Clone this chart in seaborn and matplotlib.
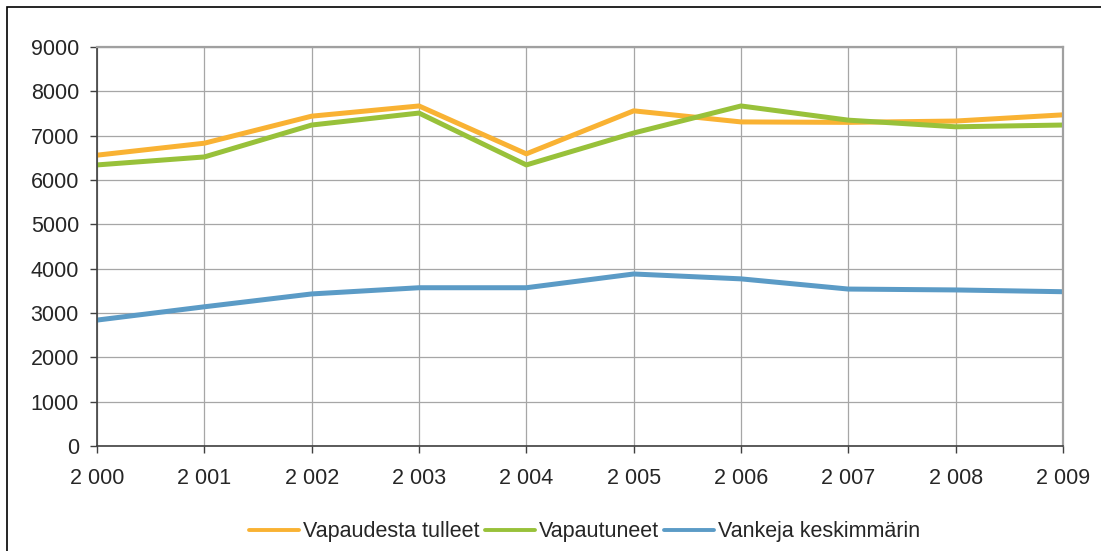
import matplotlib
matplotlib.use("Agg")
import matplotlib.pyplot as plt
import seaborn as sns
import pandas as pd
from matplotlib.patches import Rectangle

years = [2000, 2001, 2002, 2003, 2004, 2005, 2006, 2007, 2008, 2009]
year_labels = ["2 000", "2 001", "2 002", "2 003", "2 004",
               "2 005", "2 006", "2 007", "2 008", "2 009"]
vapaudesta_tulleet = [6560, 6830, 7440, 7670, 6590, 7560, 7310, 7300, 7330, 7470]
vapautuneet = [6340, 6520, 7240, 7510, 6340, 7060, 7670, 7350, 7200, 7240]
vankeja_keskimmarin = [2840, 3140, 3430, 3570, 3570, 3880, 3770, 3540, 3520, 3480]

series_names = ["Vapaudesta tulleet", "Vapautuneet", "Vankeja keskimmärin"]
colors = ["#F9B233", "#98C13A", "#5B9BC6"]

df = pd.concat([
    pd.DataFrame({"year": years, "value": vals, "series": name})
    for name, vals in zip(series_names,
                          [vapaudesta_tulleet, vapautuneet, vankeja_keskimmarin])
])

sns.set_style("white")
plt.rcParams["font.family"] = ["Liberation Sans", "DejaVu Sans"]

fig = plt.figure(figsize=(11.01, 5.51), dpi=100)
ax = fig.add_axes([97 / 1101, 1 - 446 / 551, (1063 - 97) / 1101, (446 - 47) / 551])

sns.lineplot(data=df, x="year", y="value", hue="series", palette=colors,
             hue_order=series_names, linewidth=3.6, ax=ax, legend=True)

ax.set_xlim(2000, 2009)
ax.set_ylim(0, 9000)
ax.set_xticks(years)
ax.set_xticklabels(year_labels)
ax.set_yticks(range(0, 9001, 1000))
ax.set_xlabel("")
ax.set_ylabel("")
ax.grid(True, color="#A6A6A6", linewidth=0.9)
ax.set_axisbelow(True)
ax.tick_params(axis="both", labelsize=15.5, direction="out", length=5,
               width=1, color="#404040", left=True, bottom=True)
ax.tick_params(axis="y", pad=8)
ax.tick_params(axis="x", pad=11)
for side in ["left", "bottom"]:
    ax.spines[side].set_color("#404040")
    ax.spines[side].set_linewidth(1.2)
for side in ["top", "right"]:
    ax.spines[side].set_color("#A0A0A0")
    ax.spines[side].set_linewidth(1.6)

leg = ax.legend(loc="center", bbox_to_anchor=(0.505, -0.215), ncol=3, frameon=False,
                fontsize=15.5, handlelength=2.3, handletextpad=0.2, columnspacing=0.25)
for line in leg.get_lines():
    line.set_linewidth(2.8)

fig.patches.append(Rectangle((7 / 1101, -0.05), 1.0, 1.05 - 7 / 551,
                             transform=fig.transFigure, fill=False,
                             edgecolor="black", linewidth=1.2))

fig.savefig("out.png", dpi=100)
